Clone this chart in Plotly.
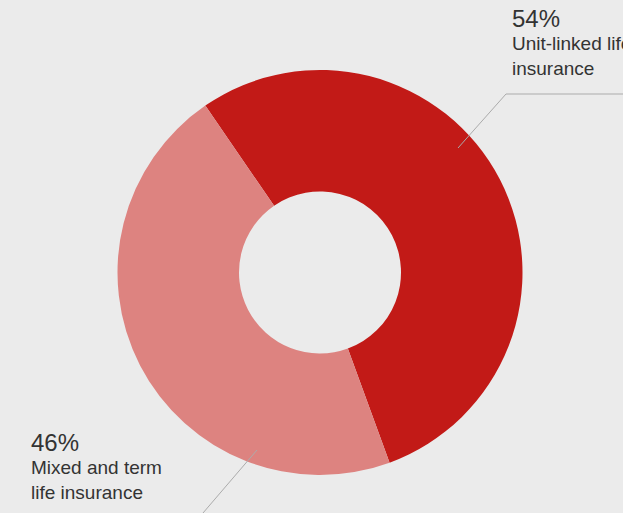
import plotly.graph_objects as go

labels = ["Unit-linked life insurance", "Mixed and term life insurance"]
label_lines = [["Unit-linked life", "insurance"], ["Mixed and term", "life insurance"]]
values = [54, 46]
colors = ["#C21A17", "#DD8380"]

W, H = 623, 513
def px(x): return x / W
def py(y): return 1 - y / H

fig = go.Figure(go.Pie(
    labels=labels, values=values, hole=0.4, sort=False, direction="clockwise",
    rotation=-34.5, marker=dict(colors=colors, line=dict(width=0)),
    textinfo="none", hoverinfo="label+percent", showlegend=False,
    domain=dict(x=[px(117), px(523)], y=[py(475), py(70)]),
))

font_fam = "Liberation Sans, Arial, sans-serif"
# label positions (pixel space, top-left of text)
pos = [(510, 3), (29, 427)]
for (x, y), v, lines in zip(pos, values, label_lines):
    fig.add_annotation(x=px(x), y=py(y), xref="paper", yref="paper", xanchor="left", yanchor="top",
                       text=f"{v}%", showarrow=False, font=dict(size=24, color="#333333", family=font_fam),
                       align="left")
    fig.add_annotation(x=px(x), y=py(y + 28), xref="paper", yref="paper", xanchor="left", yanchor="top",
                       text="<br>".join(lines), showarrow=False,
                       font=dict(size=19, color="#333333", family=font_fam), align="left")

line_style = dict(color="#ABABAB", width=1)
fig.add_shape(type="path", xref="paper", yref="paper",
              path=f"M {px(458)} {py(148)} L {px(506)} {py(94)} L {px(623)} {py(94)}", line=line_style)
fig.add_shape(type="line", xref="paper", yref="paper",
              x0=px(257), y0=py(450), x1=px(203), y1=py(513), line=line_style)

fig.update_layout(width=W, height=H, margin=dict(l=0, r=0, t=0, b=0),
                  paper_bgcolor="#EBEBEB", plot_bgcolor="#EBEBEB")
fig.write_html("out.html", config={"displayModeBar": False},
               post_script="document.body.style.margin='0';")
